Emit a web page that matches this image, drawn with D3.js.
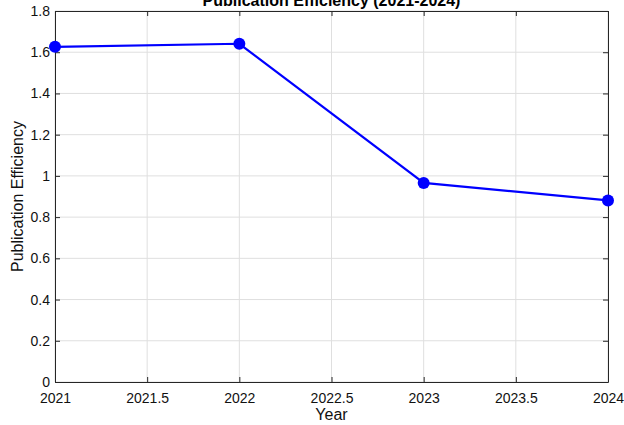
<!DOCTYPE html>
<html><head><meta charset="utf-8">
<script src="https://cdn.jsdelivr.net/npm/d3@7"></script>
<style>body{margin:0;background:#fff}svg{display:block}text{font-family:"Liberation Sans",Arial,sans-serif}</style>
</head><body>
<svg id="c" width="624" height="425"></svg>
<script>
const years = [2021, 2022, 2023, 2024];
const efficiency = [1.626, 1.641, 0.966, 0.881];
const xTicks = [2021, 2021.5, 2022, 2022.5, 2023, 2023.5, 2024];
const yTicks = [0, 0.2, 0.4, 0.6, 0.8, 1, 1.2, 1.4, 1.6, 1.8];
const title = "Publication Efficiency (2021-2024)";
const xLabel = "Year";
const yLabel = "Publication Efficiency";

const svg = d3.select("#c");
const L = 55, R = 608, T = 11, B = 382;
const x = d3.scaleLinear().domain([2021, 2024]).range([L, R]);
const y = d3.scaleLinear().domain([0, 1.8]).range([B, T]);
const axisCol = "#262626";

svg.append("rect").attr("x", L).attr("y", T).attr("width", R - L).attr("height", B - T).attr("fill", "#fff");

// grid
svg.append("g").selectAll("line").data(xTicks).join("line")
  .attr("x1", d => x(d)).attr("x2", d => x(d)).attr("y1", T).attr("y2", B)
  .attr("stroke", "#dfdfdf").attr("stroke-width", 1);
svg.append("g").selectAll("line").data(yTicks).join("line")
  .attr("y1", d => y(d)).attr("y2", d => y(d)).attr("x1", L).attr("x2", R)
  .attr("stroke", "#dfdfdf").attr("stroke-width", 1);

// axes
const xa = svg.append("g").attr("transform", `translate(0,${B})`)
  .call(d3.axisBottom(x).tickValues(xTicks).tickFormat(d => String(d)).tickSizeInner(-5).tickSizeOuter(0).tickPadding(11));
const xt = svg.append("g").attr("transform", `translate(0,${T})`)
  .call(d3.axisTop(x).tickValues(xTicks).tickFormat("").tickSizeInner(-5).tickSizeOuter(0));
const ya = svg.append("g").attr("transform", `translate(${L},0)`)
  .call(d3.axisLeft(y).tickValues(yTicks).tickFormat(d => String(d)).tickSizeInner(-5).tickSizeOuter(0).tickPadding(5));
const yr = svg.append("g").attr("transform", `translate(${R},0)`)
  .call(d3.axisRight(y).tickValues(yTicks).tickFormat("").tickSizeInner(-5).tickSizeOuter(0));
[xa, xt, ya, yr].forEach(g => {
  g.select(".domain").attr("stroke", axisCol).attr("stroke-width", 1);
  g.selectAll(".tick line").attr("stroke", axisCol);
  g.selectAll(".tick text").attr("fill", "#111").attr("font-size", 14).attr("font-family", "Liberation Sans, Arial, sans-serif");
});

// line
const line = d3.line().x((d, i) => x(years[i])).y(d => y(d));
svg.append("path").datum(efficiency).attr("d", line)
  .attr("fill", "none").attr("stroke", "#0000ff").attr("stroke-width", 2.2);
svg.append("g").selectAll("circle").data(efficiency).join("circle")
  .attr("cx", (d, i) => x(years[i])).attr("cy", d => y(d)).attr("r", 6)
  .attr("fill", "#0000ff");

// labels
svg.append("text").attr("x", (L + R) / 2).attr("y", 6).attr("text-anchor", "middle")
  .attr("font-size", 16).attr("font-weight", "bold").attr("fill", "#000").text(title);
svg.append("text").attr("x", (L + R) / 2).attr("y", 420).attr("text-anchor", "middle")
  .attr("font-size", 16).attr("fill", "#111").text(xLabel);
svg.append("text").attr("transform", `translate(23,${(T + B) / 2}) rotate(-90)`).attr("text-anchor", "middle")
  .attr("font-size", 16).attr("fill", "#111").text(yLabel);
</script>
</body></html>
